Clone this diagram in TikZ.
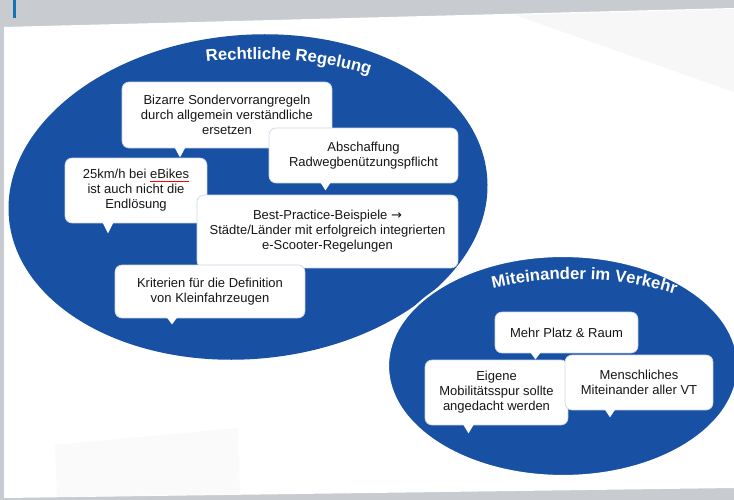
\documentclass[tikz,border=0pt]{standalone}
\usepackage{fontspec}
\setmainfont{Liberation Sans}
\newfontfamily\arrowfont{DejaVu Sans}
\usetikzlibrary{calc,decorations.text}

\definecolor{ovalblue}{RGB}{24,80,164}
\definecolor{pagegrey}{RGB}{200,203,208}
\definecolor{inkgrey}{RGB}{22,22,22}
\definecolor{edgeblue}{RGB}{205,215,235}

\newsavebox\spellbox
\newcommand\spellmark[1]{\sbox\spellbox{#1}\rlap{\textcolor{red}{\rule[-0.4ex]{\wd\spellbox}{0.5pt}}}\usebox\spellbox}

\begin{document}
\begin{tikzpicture}[x = 0.02cm, y = -0.02cm,
    bubble/.style = {shape = rectangle, rounded corners = 4pt, fill = white,
                     draw = edgeblue, line width = 0.4pt, align = center,
                     text = inkgrey, font = \fontsize{7.4}{8.6}\selectfont,
                     inner sep = 2pt},
    oval/.style = {fill = ovalblue},
    title/.style = {decorate, decoration = {text along path, text align = center,
                     text = {|\color{white}\bfseries\fontsize{9.5}{11}\selectfont|#1}}}]
  \useasboundingbox (0,0) rectangle (734,500);
  \fill[pagegrey] (0,0) rectangle (734,500);
  \fill[white] (4,27) -- (734,8) -- (734,488) -- (4,498) -- cycle;
  \fill[black!3] (515,15) -- (734,9) -- (734,92) -- cycle;
  \fill[black!2] (55,445) -- (238,428) -- (240,494) -- (57,497) -- cycle;
  \fill[ovalblue!80!cyan] (13,0) rectangle (16,18);

  \fill[oval, rotate around = {5:(248,197)}] (248,197) ellipse [x radius = 240, y radius = 162];
  \path[title = Rechtliche Regelung] (185,65) .. controls (245,55) and (325,56) .. (390,82);

  \node[bubble, minimum width = 4.2cm, minimum height = 1.32cm] (bizarre) at (227,115)
    {Bizarre Sondervorrangregeln\\durch allgemein verständliche\\ersetzen};
  \node[bubble, minimum width = 2.84cm, minimum height = 1.3cm] (ebikes) at (136,190.5)
    {25km/h bei \spellmark{eBikes}\\ist auch nicht die\\Endlösung};
  \node[bubble, minimum width = 3.78cm, minimum height = 1.1cm] (abschaffung) at (363.5,155.5)
    {Abschaffung\\Radwegbenützungspflicht};
  \node[bubble, minimum width = 5.22cm, minimum height = 1.46cm] (best) at (327.5,231.5)
    {Best-Practice-Beispiele {\arrowfont →}\\Städte/Länder mit erfolgreich integrierten\\e-Scooter-Regelungen};
  \node[bubble, minimum width = 3.8cm, minimum height = 1.06cm] (kriterien) at (210,291.5)
    {Kriterien für die Definition\\von Kleinfahrzeugen};

  \fill[oval, draw = white, line width = 1.2pt] (563,366) ellipse [x radius = 175, y radius = 110];
  \path[title = Miteinander im Verkehr] (476,293) .. controls (540,274) and (620,273) .. (692,300);

  \node[bubble, minimum width = 2.86cm, minimum height = 0.82cm] (platz) at (566.5,332.5)
    {Mehr Platz \& Raum};
  \node[bubble, minimum width = 2.86cm, minimum height = 1.3cm] (eigene) at (496.5,392.5)
    {Eigene\\Mobilitätsspur sollte\\angedacht werden};
  \node[bubble, minimum width = 2.96cm, minimum height = 1.1cm] (menschlich) at (639,382.5)
    {Menschliches\\Miteinander aller VT};

  \foreach \n/\dx/\dy in {bizarre/-47/9, abschaffung/-38/7, ebikes/-28/10, kriterien/-38/6,
                          platz/-31/6, eigene/-28/8, menschlich/-29/7}
    \fill[white] ($(\n.south)+(\dx-6,-2)$) -- ($(\n.south)+(\dx,\dy)$) -- ($(\n.south)+(\dx+6,-2)$) -- cycle;
\end{tikzpicture}
\end{document}
